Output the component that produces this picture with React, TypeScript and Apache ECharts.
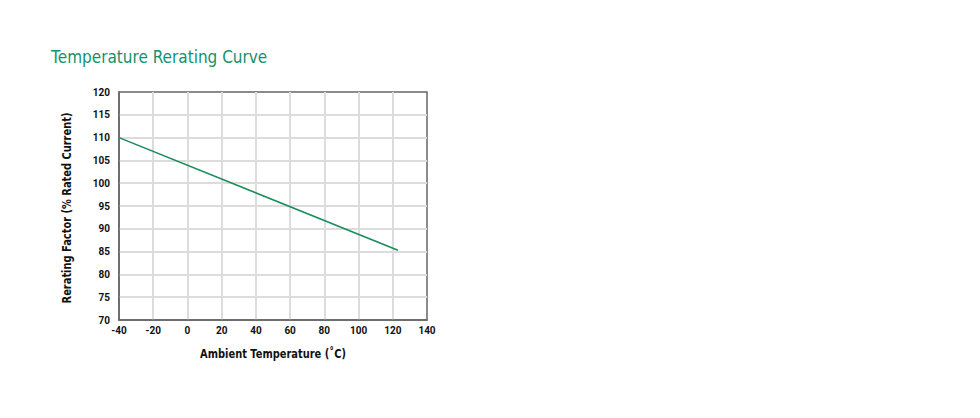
import React, { useEffect, useRef } from "react";
import * as echarts from "echarts";

const titleText = "Temperature Rerating Curve";
const xAxisName = "Ambient Temperature (˚C)";
const yAxisName = "Rerating Factor (% Rated Current)";
const temperatures = [-40, 123];
const rerating = [110, 85.3];

const FONT = "'DejaVu Sans', sans-serif";
const TICK_FONT = "Roboto, 'Liberation Sans', sans-serif";

export default function App() {
  const ref = useRef<HTMLDivElement>(null);
  useEffect(() => {
    if (!ref.current) return;
    const chart = echarts.init(ref.current, undefined, { renderer: "svg" });
    chart.setOption({
      animation: false,
      backgroundColor: "#ffffff",
      graphic: [
        {
          type: "text",
          x: 51,
          y: 57,
          scaleX: 0.85,
          style: {
            text: titleText,
            fontFamily: FONT,
            fontSize: 18,
            fill: "#16906b",
            textAlign: "left",
            textVerticalAlign: "middle",
          },
        },
        {
          type: "text",
          x: 273,
          y: 353,
          scaleX: 0.76,
          style: {
            text: xAxisName,
            fontFamily: FONT,
            fontSize: 13,
            fontWeight: "bold",
            fill: "#111",
            textAlign: "center",
            textVerticalAlign: "middle",
          },
        },
        {
          type: "text",
          x: 66,
          y: 208,
          rotation: Math.PI / 2,
          scaleX: 0.76,
          style: {
            text: yAxisName,
            fontFamily: FONT,
            fontSize: 13,
            fontWeight: "bold",
            fill: "#111",
            textAlign: "center",
            textVerticalAlign: "middle",
          },
        },
      ],
      grid: {
        left: 119,
        right: 553,
        top: 92,
        bottom: 98,
        show: true,
        borderColor: "#666666",
        borderWidth: 1.5,
        backgroundColor: "transparent",
      },
      xAxis: {
        type: "value",
        min: -40,
        max: 140,
        interval: 20,
        axisLine: { show: true, onZero: false, lineStyle: { color: "#666666", width: 1.5 } },
        axisTick: { show: false },
        axisLabel: { margin: 5, fontFamily: TICK_FONT, fontSize: 10, fontWeight: "bold", color: "#111" },
        splitLine: { show: true, showMinLine: false, showMaxLine: false, lineStyle: { color: "#dcdcdc", width: 2 } },
      },
      yAxis: {
        type: "value",
        min: 70,
        max: 120,
        interval: 5,
        axisLine: { show: true, onZero: false, lineStyle: { color: "#666666", width: 1.5 } },
        axisTick: { show: false },
        axisLabel: { margin: 9, fontFamily: TICK_FONT, fontSize: 10, fontWeight: "bold", color: "#111" },
        splitLine: { show: true, showMinLine: false, showMaxLine: false, lineStyle: { color: "#dcdcdc", width: 2 } },
      },
      series: [
        {
          type: "line",
          data: temperatures.map((t, i) => [t, rerating[i]]),
          showSymbol: false,
          symbol: "none",
          lineStyle: { color: "#178c58", width: 1.5 },
          z: 5,
        },
      ],
    });
    return () => chart.dispose();
  }, []);
  return (
    <div
      ref={ref}
      style={{ position: "fixed", left: 0, top: 0, width: 980, height: 418 }}
    />
  );
}
